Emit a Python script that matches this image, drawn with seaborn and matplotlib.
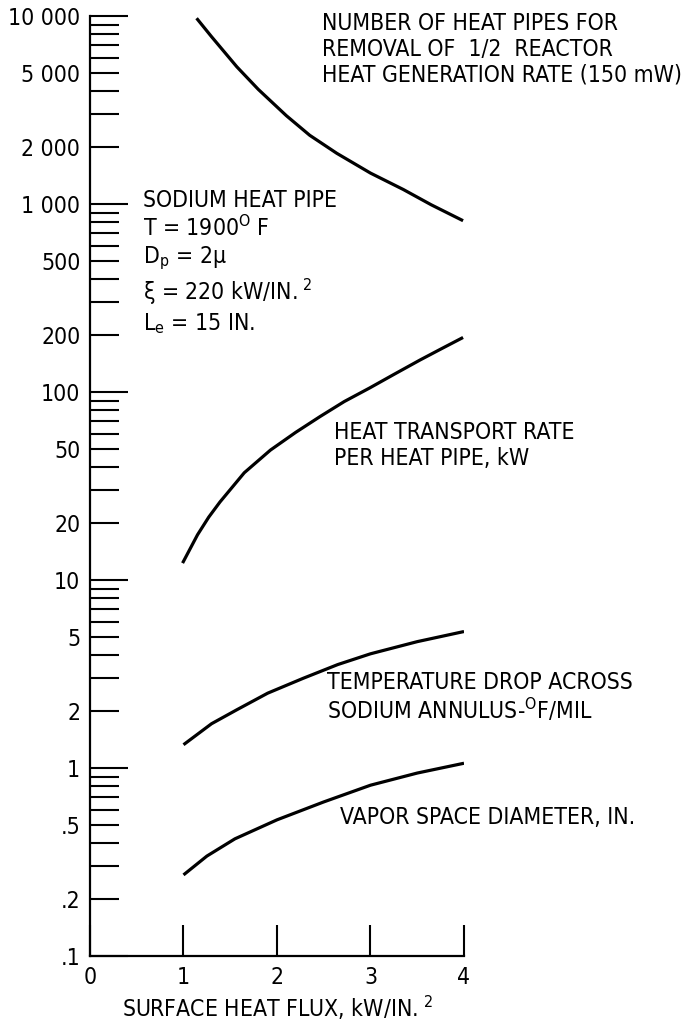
import numpy as np
import pandas as pd
import matplotlib
matplotlib.use("Agg")
import matplotlib.pyplot as plt
from matplotlib import font_manager
import seaborn as sns

# curves (x = surface heat flux, kW/in^2)
x_pipes = [1.14, 1.30, 1.57, 1.80, 2.10, 2.35, 2.64, 3.00, 3.35, 3.65, 3.99]
n_pipes = [9730, 7760, 5370, 4070, 2950, 2320, 1860, 1460, 1195, 990, 815]

x_rate = [0.99, 1.15, 1.27, 1.39, 1.65, 1.93, 2.20, 2.46, 2.72, 2.99, 3.25, 3.53, 3.75, 3.99]
q_rate = [12.3, 17.4, 21.6, 26.0, 37.2, 49.1, 61, 74, 89, 105, 124, 148, 169, 195]

x_dtemp = [1.0, 1.3, 1.57, 1.9, 2.28, 2.65, 3.0, 3.5, 4.0]
dtemp = [1.33, 1.72, 2.04, 2.5, 3.0, 3.55, 4.05, 4.7, 5.32]

x_vapor = [1.0, 1.25, 1.55, 2.0, 2.5, 3.0, 3.5, 4.0]
vapor = [0.27, 0.34, 0.42, 0.53, 0.66, 0.81, 0.94, 1.06]

major_ticks = [0.1, 1, 10, 100, 1000, 10000]
major_labels = [".1", "1", "10", "100", "1 000", "10 000"]
minor_ticks = [m * d for d in [0.1, 1, 10, 100, 1000] for m in range(2, 10)]
minor_named = {0.2: ".2", 0.5: ".5", 2: "2", 5: "5", 20: "20", 50: "50",
               200: "200", 500: "500", 2000: "2 000", 5000: "5 000"}
x_ticks = [0, 1, 2, 3, 4]

sns.set_style("ticks")

# look for a narrow face, the original lettering is condensed
names = {f.name for f in font_manager.fontManager.ttflist}
FONT, STRETCH, fs = "DejaVu Sans", "normal", 15.5
cond = font_manager.findfont(font_manager.FontProperties(family="DejaVu Sans", stretch="condensed"))
if "Liberation Sans Narrow" in names:
    FONT, fs = "Liberation Sans Narrow", 16.5
elif "Condensed" in cond:
    STRETCH, fs = "condensed", 16.5

plt.rcParams['font.family'] = [FONT, 'DejaVu Sans']
plt.rcParams['font.stretch'] = STRETCH
plt.rcParams['mathtext.fontset'] = 'custom'
plt.rcParams['mathtext.rm'] = FONT + (":stretch=condensed" if STRETCH == "condensed" else "")
plt.rcParams['mathtext.it'] = plt.rcParams['mathtext.rm']
plt.rcParams['mathtext.sf'] = plt.rcParams['mathtext.rm']
for k in ["text.color", "axes.labelcolor", "xtick.color", "ytick.color", "axes.edgecolor"]:
    plt.rcParams[k] = "black"

fig = plt.figure(figsize=(7, 10.23), dpi=100)
ax = fig.add_axes([90 / 700, 67 / 1023, 374 / 700, 940 / 1023])

curves = [(x_pipes, n_pipes), (x_rate, q_rate), (x_dtemp, dtemp), (x_vapor, vapor)]
for xs, ys in curves:
    df = pd.DataFrame({"flux": xs, "val": ys})
    sns.lineplot(data=df, x="flux", y="val", ax=ax, color="black", lw=2.3,
                 solid_capstyle="butt", solid_joinstyle="round")

ax.set_yscale("log")
ax.set_xlim(0, 4)
ax.set_ylim(0.1, 10000)
sns.despine(ax=ax)
ax.spines["left"].set_linewidth(1.6)
ax.spines["bottom"].set_linewidth(1.6)

ax.set_yticks(major_ticks, major_labels)
ax.set_yticks(minor_ticks, [minor_named.get(round(t, 3), "") for t in minor_ticks], minor=True)
ax.tick_params(axis="y", which="major", direction="in", length=27, width=1.5,
               labelsize=fs, pad=7)
ax.tick_params(axis="y", which="minor", direction="in", length=21, width=1.5,
               labelsize=fs, pad=7)
ax.set_xticks(x_ticks, [str(t) for t in x_ticks])
ax.tick_params(axis="x", direction="in", length=22, width=1.5, labelsize=fs, pad=7)

ax.set_xlabel("SURFACE HEAT FLUX, kW/IN.$^{\\ 2}$", fontsize=fs, labelpad=4)
ax.set_ylabel("")

ax.text(2.48, 10500, "NUMBER OF HEAT PIPES FOR\nREMOVAL OF  1/2  REACTOR\n"
        "HEAT GENERATION RATE (150 mW)", fontsize=fs, va="top", ha="left",
        linespacing=1.15)
ax.text(0.57, 1200, "SODIUM HEAT PIPE\nT = 1900$^{\\mathrm{O}}$ F\n"
        "D$_{\\mathrm{p}}$ = 2μ\nξ = 220 kW/IN.$^{\\ 2}$\nL$_{\\mathrm{e}}$ = 15 IN.",
        fontsize=fs, va="top", ha="left", linespacing=1.2)
ax.text(2.61, 70, "HEAT TRANSPORT RATE\nPER HEAT PIPE, kW", fontsize=fs,
        va="top", ha="left", linespacing=1.15)
ax.text(2.53, 3.3, "TEMPERATURE DROP ACROSS\nSODIUM ANNULUS-$^{\\mathrm{O}}$F/MIL",
        fontsize=fs, va="top", ha="left", linespacing=1.15)
ax.text(2.67, 0.63, "VAPOR SPACE DIAMETER, IN.", fontsize=fs, va="top", ha="left")

fig.savefig("out.png", dpi=100, facecolor="white")
